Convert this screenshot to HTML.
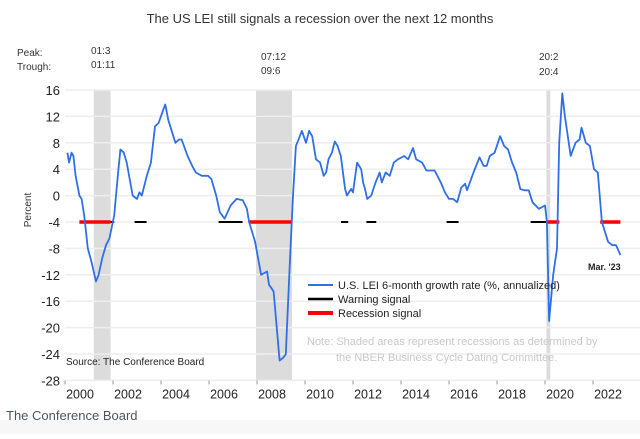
<!DOCTYPE html>
<html><head><meta charset="utf-8"><style>
body{margin:0;background:#fff;width:640px;height:434px;overflow:hidden;font-family:"Liberation Sans",sans-serif}
svg text{font-family:"Liberation Sans",sans-serif}
</style></head><body>
<svg id="chart" width="640" height="434" viewBox="0 0 640 434" xmlns="http://www.w3.org/2000/svg">
<rect x="0" y="420" width="640" height="14" fill="#f7f7f7"/>
<text x="320" y="23" text-anchor="middle" font-size="13" fill="#333">The US LEI still signals a recession over the next 12 months</text>
<text x="17" y="56" font-size="10" fill="#333">Peak:</text>
<text x="17" y="70" font-size="10" fill="#333">Trough:</text>
<text x="91" y="54" font-size="10" fill="#333">01:3</text>
<text x="91" y="68" font-size="10" fill="#333">01:11</text>
<text x="261" y="60" font-size="10" fill="#333">07:12</text>
<text x="261" y="74" font-size="10" fill="#333">09:6</text>
<text x="539" y="60" font-size="10" fill="#333">20:2</text>
<text x="539" y="75" font-size="10" fill="#333">20:4</text>
<g id="shades"></g><g id="grid"></g><g id="signals"></g><g id="series"></g><g id="axes"></g>
<text transform="translate(31,210) rotate(-90)" text-anchor="middle" font-size="10" fill="#333">Percent</text>
<line x1="308" y1="285" x2="333" y2="285" stroke="#2f6fe8" stroke-width="2"/>
<text x="338" y="289" font-size="11" fill="#222">U.S. LEI 6-month growth rate (%, annualized)</text>
<line x1="308" y1="299" x2="333" y2="299" stroke="#000" stroke-width="2.5"/>
<text x="338" y="303" font-size="11" fill="#222">Warning signal</text>
<line x1="308" y1="313" x2="333" y2="313" stroke="#f00" stroke-width="4"/>
<text x="338" y="317" font-size="11" fill="#222">Recession signal</text>
<text x="307" y="345" font-size="11" fill="#c8c8c8">Note: Shaded areas represent recessions as determined by</text>
<text x="336" y="361" font-size="11" fill="#c8c8c8">the NBER Business Cycle Dating Committee.</text>
<text x="66" y="365" font-size="10" fill="#222">Source: The Conference Board</text>
<text x="588" y="270" font-size="9" font-weight="bold" fill="#222">Mar. '23</text>
<text x="6" y="420" font-size="13" fill="#4a5560">The Conference Board</text>
</svg>
<script>
const yTicks=[16,12,8,4,0,-4,-8,-12,-16,-20,-24,-28];
const xTicks=[2000,2002,2004,2006,2008,2010,2012,2014,2016,2018,2020,2022];
const recessions=[[2001.2,2001.9],[2007.96,2009.46],[2020.06,2020.22]];
const warningSignals=[[2001.9,2002.05],[2002.9,2003.4],[2006.4,2007.4],[2011.5,2011.8],[2012.56,2012.97],[2015.9,2016.4],[2019.4,2020.08]];
const recessionSignals=[[2000.6,2001.9],[2007.67,2009.46],[2020.08,2020.6],[2022.3,2023.14]];
const signalLevel=-4;
const years=[2000.1,2000.17,2000.27,2000.35,2000.44,2000.6,2000.69,2000.8,2000.95,2001.1,2001.29,2001.4,2001.55,2001.71,2001.85,2002.05,2002.2,2002.31,2002.45,2002.57,2002.82,2003.0,2003.1,2003.2,2003.41,2003.58,2003.75,2003.9,2004.09,2004.18,2004.3,2004.6,2004.75,2004.86,2005.11,2005.3,2005.45,2005.7,2005.96,2006.1,2006.3,2006.45,2006.65,2006.9,2007.15,2007.41,2007.58,2007.67,2007.92,2008.17,2008.42,2008.5,2008.69,2008.94,2009.11,2009.2,2009.37,2009.5,2009.62,2009.87,2010.04,2010.17,2010.3,2010.46,2010.63,2010.78,2010.88,2010.98,2011.12,2011.24,2011.36,2011.49,2011.67,2011.75,2011.83,2011.92,2012.0,2012.17,2012.34,2012.42,2012.5,2012.59,2012.76,2012.94,2013.11,2013.2,2013.36,2013.53,2013.7,2013.87,2014.13,2014.3,2014.5,2014.63,2014.88,2015.06,2015.23,2015.4,2015.66,2015.83,2016.0,2016.17,2016.34,2016.51,2016.67,2016.75,2017.02,2017.27,2017.44,2017.57,2017.7,2017.9,2018.13,2018.3,2018.46,2018.63,2018.8,2018.97,2019.15,2019.32,2019.48,2019.74,2020.0,2020.08,2020.17,2020.34,2020.5,2020.59,2020.72,2020.83,2021.07,2021.27,2021.44,2021.52,2021.7,2021.87,2022.04,2022.2,2022.37,2022.63,2022.8,2022.96,2023.14];
const values=[6.5,5,6.5,6,3,0,-0.5,-3,-8,-10,-13,-12,-9.5,-7.5,-6.5,-3,3,7,6.5,5,0,-0.5,0.5,0,3,5,10.5,11,13,13.8,11.5,8,8.5,8.5,6,4.5,3.5,3,3,2.5,0,-2.5,-3.5,-1.5,-0.5,-0.7,-2,-4,-7,-12,-11.5,-13.5,-14.5,-25,-24.5,-24,-10,0,7.5,9.8,8,9.8,9,5.5,5,3,3.5,5.5,6.5,8.2,7.5,6,1,0,0.5,1,0.5,5,4,2,1,-0.5,0,2,3.5,2,3.5,3,5,5.5,6,5.5,7.2,5.5,5,3.8,3.8,3.8,2,0.5,-0.5,-0.5,-1,1.2,1.8,0.8,3.5,5.8,4.5,4.5,6,6.5,9,7.5,7,5,3.5,1,0.8,0.8,-1,-2,-1.5,-4,-19,-12,-8,8,15.5,12,6,8,8.5,10.3,8,7.5,4,3.5,-4,-7,-7.5,-7.5,-9];
const NS="http://www.w3.org/2000/svg";
const X=y=>65+(y-2000)*24;
const Y=v=>90+(16-v)*6.6;
const mk=(g,t,a)=>{const e=document.createElementNS(NS,t);for(const k in a)e.setAttribute(k,a[k]);document.getElementById(g).appendChild(e);return e;};
recessions.forEach(r=>{const e=mk('shades','rect',{x:X(r[0]),y:Y(16),width:X(r[1])-X(r[0]),height:Y(-28)-Y(16),fill:'#dcdcdc'});

});
yTicks.forEach(v=>{const l=mk('grid','line',{x1:65,x2:640,y1:Y(v),y2:Y(v),stroke:'#eeeeee','stroke-width':1.5});


const t=mk('axes','text',{x:60,y:Y(v)+5,'text-anchor':'end','font-size':13,fill:'#222'});t.textContent=v;

});
xTicks.forEach(yr=>{const l=mk('axes','line',{x1:X(yr),x2:X(yr),y1:Y(-28),y2:Y(-28)+4,stroke:'#999'});


const t=mk('axes','text',{x:X(yr)+15,y:Y(-28)+18,'text-anchor':'middle','font-size':12.5,fill:'#222'});t.textContent=yr;

});
warningSignals.forEach(s=>{const l=mk('signals','line',{x1:X(s[0]),x2:X(s[1]),y1:Y(signalLevel),y2:Y(signalLevel),stroke:'#000','stroke-width':2});

});
recessionSignals.forEach(s=>{const l=mk('signals','line',{x1:X(s[0]),x2:X(s[1]),y1:Y(signalLevel),y2:Y(signalLevel),stroke:'#f00','stroke-width':3.5});

});
const p=mk('series','path',{d:years.map((y,i)=>(i?'L':'M')+X(y).toFixed(1)+' '+Y(values[i]).toFixed(1)).join(' '),fill:'none',stroke:'#2f6fe8','stroke-width':1.8,'stroke-linejoin':'round'});


</script>
</body></html>
